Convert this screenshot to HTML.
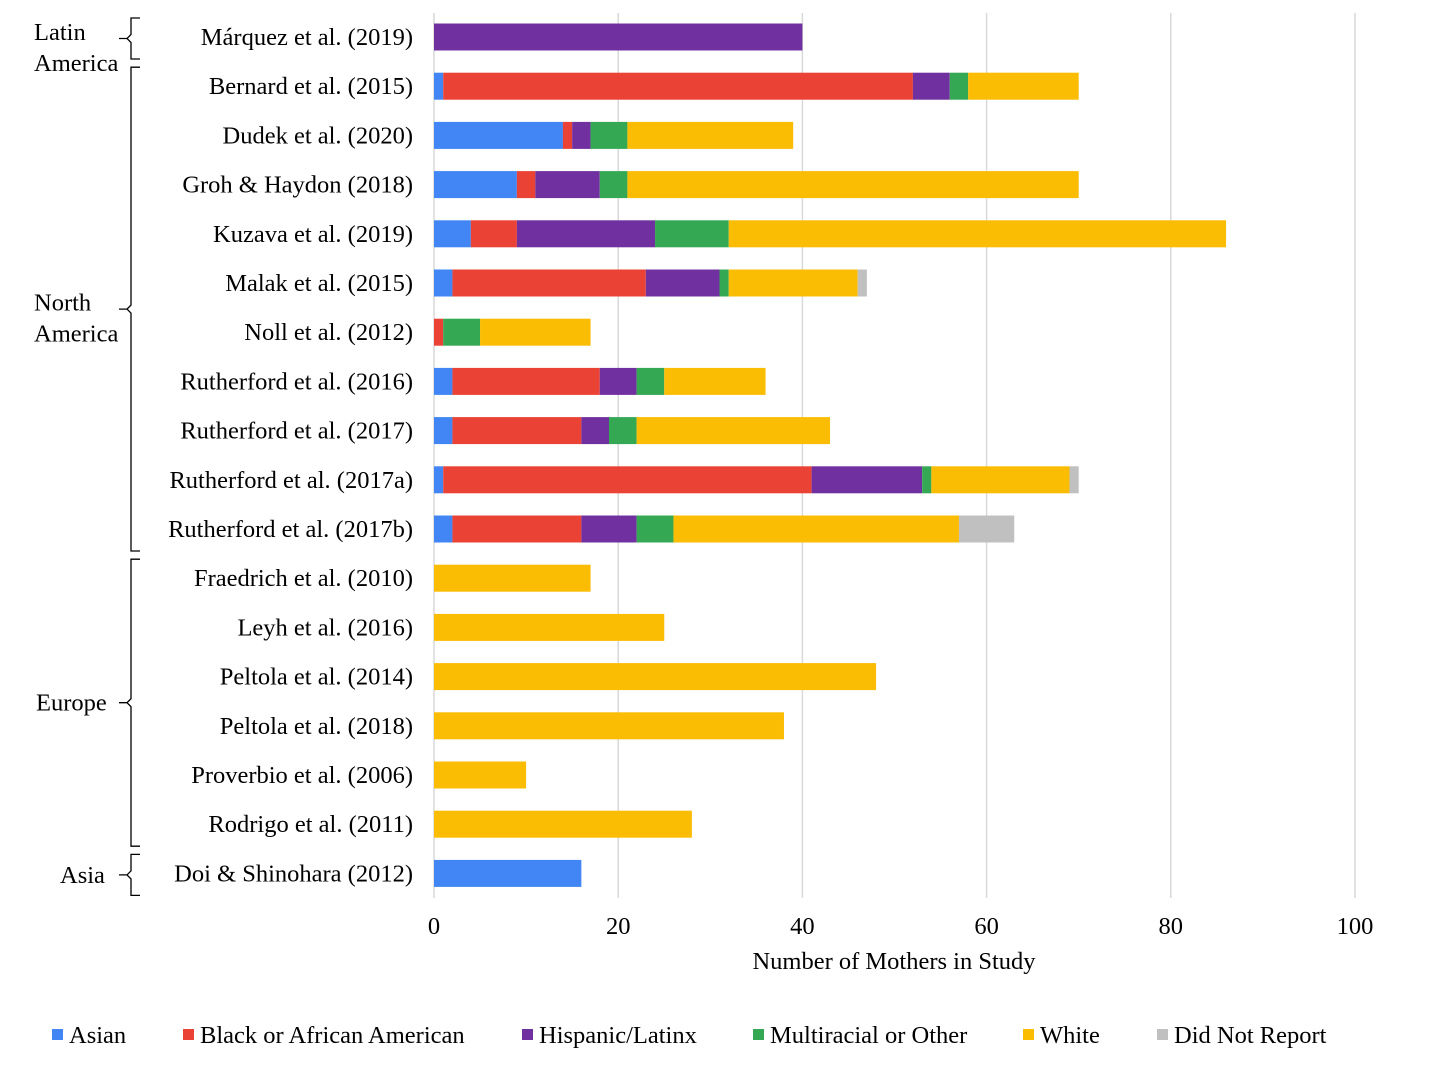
<!DOCTYPE html>
<html><head><meta charset="utf-8">
<style>
body{margin:0;background:#fff;}
svg text{font-family:"Liberation Serif",serif;fill:#000;}
</style></head><body>
<svg id="c" width="1430" height="1069" xmlns="http://www.w3.org/2000/svg"></svg>
<script>
const studies=["Márquez et al. (2019)","Bernard et al. (2015)","Dudek et al. (2020)","Groh & Haydon (2018)","Kuzava et al. (2019)","Malak et al. (2015)","Noll et al. (2012)","Rutherford et al. (2016)","Rutherford et al. (2017)","Rutherford et al. (2017a)","Rutherford et al. (2017b)","Fraedrich et al. (2010)","Leyh et al. (2016)","Peltola et al. (2014)","Peltola et al. (2018)","Proverbio et al. (2006)","Rodrigo et al. (2011)","Doi & Shinohara (2012)"];
const asian=[0,1,14,9,4,2,0,2,2,1,2,0,0,0,0,0,0,16];
const black=[0,51,1,2,5,21,1,16,14,40,14,0,0,0,0,0,0,0];
const hispanic=[40,4,2,7,15,8,0,4,3,12,6,0,0,0,0,0,0,0];
const multi=[0,2,4,3,8,1,4,3,3,1,4,0,0,0,0,0,0,0];
const white=[0,12,18,49,54,14,12,11,21,15,31,17,25,48,38,10,28,0];
const dnr=[0,0,0,0,0,1,0,0,0,1,6,0,0,0,0,0,0,0];
const seriesNames=["Asian","Black or African American","Hispanic/Latinx","Multiracial or Other","White","Did Not Report"];
const ticks=[0,20,40,60,80,100];
const regions=[["Latin","America"],["North","America"],["Europe"],["Asia"]];
const regionRanges=[[0,0],[1,10],[11,16],[17,17]];
const series=[asian,black,hispanic,multi,white,dnr];
const colors=["#4285f4","#ea4335","#7030a0","#34a853","#fbbc04","#c0c0c0"];
const NS="http://www.w3.org/2000/svg";
const svg=document.getElementById('c');
const x0=434,x1=1355,xmax=100;
const FS=24.5;
const X=v=>x0+(x1-x0)*v/xmax;
const Y=i=>37+i*49.2;
function mk(t,a,txt){const e=document.createElementNS(NS,t);for(const k in a)e.setAttribute(k,a[k]);if(txt!=null)e.textContent=txt;svg.appendChild(e);return e;}
ticks.forEach(t=>{
  const l=mk('line',{x1:X(t),x2:X(t),y1:13,y2:898,stroke:'#d9d9d9','stroke-width':1.5});
  
  
  const tx=mk('text',{x:X(t),y:934,'text-anchor':'middle','font-size':FS},t);
  
  
});
const xt=mk('text',{x:894,y:969,'text-anchor':'middle','font-size':FS},'Number of Mothers in Study');


studies.forEach((s,i)=>{
  const lb=mk('text',{x:413,y:Y(i)+8,'text-anchor':'end','font-size':FS},s);
  
  
  let acc=0;
  series.forEach((arr,k)=>{
    const v=arr[i];if(!v)return;
    const r=mk('rect',{x:X(acc),y:Y(i)-13.5,width:X(acc+v)-X(acc),height:27,fill:colors[k]});
    
    
    acc+=v;
  });
});
regions.forEach((lines,r)=>{
  const [a,b]=regionRanges[r];
  const top=Y(a)-19,bot=Y(b)+22,mid=(top+bot)/2;
  const xb=131;
  const p=mk('path',{d:`M${xb+9},${top} L${xb},${top} L${xb},${mid-4} L${xb-4},${mid} L${xb-12},${mid} M${xb-4},${mid} L${xb},${mid+4} L${xb},${bot} L${xb+9},${bot}`,fill:'none',stroke:'#000','stroke-width':1.3});
  
  
  const lx=lines.length>1?34:(lines[0]==='Asia'?60:36);
  const off=lines.length>1?9:0;
  lines.forEach((ln,j)=>{
    const t=mk('text',{x:lx,y:mid+8+off+(j-(lines.length-1)/2)*31,'font-size':FS},ln);
    
    
  });
});
const lxs=[52,183,522,753,1023,1157];
seriesNames.forEach((n,k)=>{
  const r=mk('rect',{x:lxs[k],y:1029,width:11,height:11,fill:colors[k]});
  
  
  const t=mk('text',{x:lxs[k]+17,y:1043,'font-size':FS},n);
  
  
});
</script>
</body></html>
